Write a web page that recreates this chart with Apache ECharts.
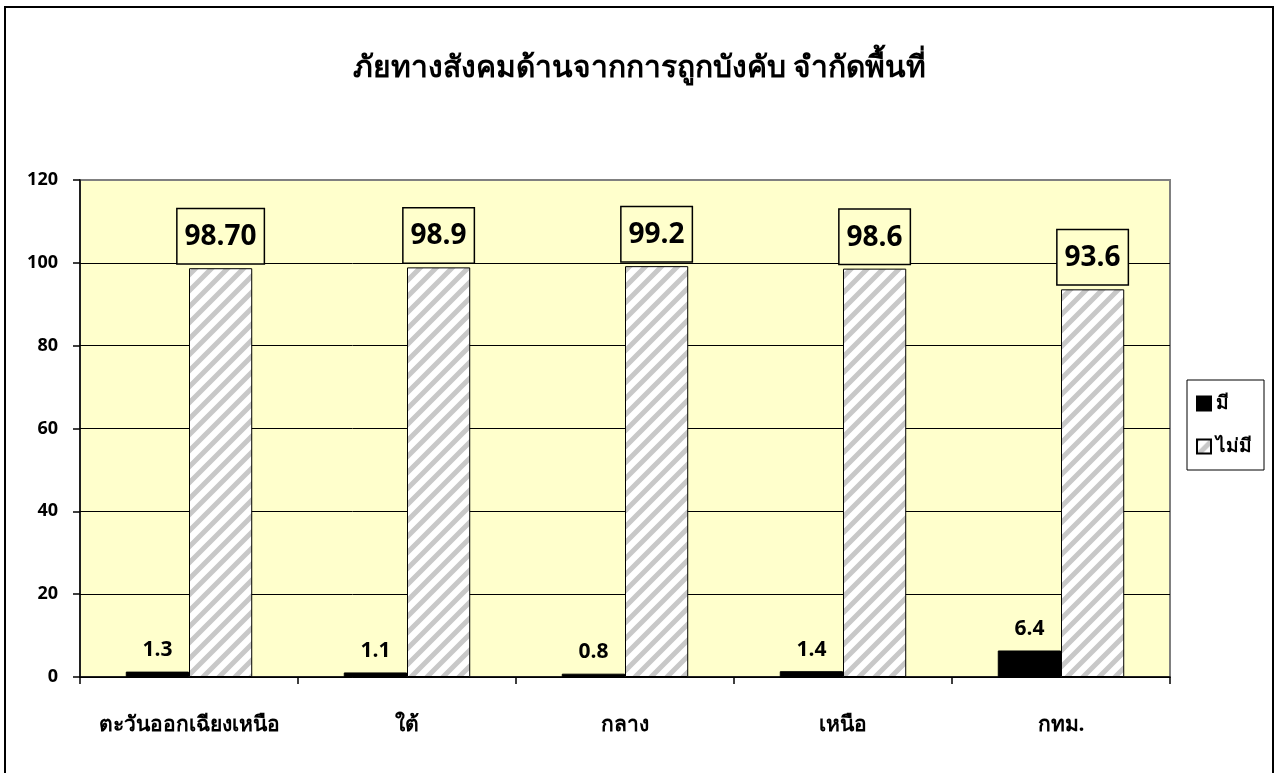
<!DOCTYPE html>
<html lang="th">
<head>
    <meta charset="UTF-8">
    <title>ภัยทางสังคมด้านจากการถูกบังคับ จำกัดพื้นที่</title>
    <style>
        html, body { margin: 0; padding: 0; background: #fff; }
        #main { width: 1279px; height: 773px; }
    </style>
</head>
<body>
    <div id="main"></div>
    <script src="https://cdn.jsdelivr.net/npm/echarts@6/dist/echarts.min.js"></script>
    <script>
        // ข้อมูล
        var categories = ['ตะวันออกเฉียงเหนือ', 'ใต้', 'กลาง', 'เหนือ', 'กทม.'];
        var yesValues = [1.3, 1.1, 0.8, 1.4, 6.4];
        var noValues = [98.7, 98.9, 99.2, 98.6, 93.6];
        var noLabels = ['98.70', '98.9', '99.2', '98.6', '93.6'];
        var seriesNames = ['มี', 'ไม่มี'];

        var font = '"Open Sans", Lato, sans-serif';

        // ลายเส้นเฉียง (x + y = 0, s, 2s)
        function hatch() {
            var s = 16;
            var c = document.createElement('canvas');
            c.width = s; c.height = s;
            var ctx = c.getContext('2d');
            ctx.fillStyle = '#ffffff';
            ctx.fillRect(0, 0, s, s);
            ctx.strokeStyle = '#c8c8c8';
            ctx.lineWidth = 5;
            ctx.beginPath();
            ctx.moveTo(-4, 4); ctx.lineTo(4, -4);
            ctx.moveTo(-4, s + 4); ctx.lineTo(s + 4, -4);
            ctx.moveTo(s - 4, s + 4); ctx.lineTo(s + 4, s - 4);
            ctx.stroke();
            return c;
        }
        var hatchPattern = { image: hatch(), repeat: 'repeat' };

        var chart = echarts.init(document.getElementById('main'));
        var option = {
            backgroundColor: '#ffffff',
            animation: false,
            title: {
                text: 'ภัยทางสังคมด้านจากการถูกบังคับ จำกัดพื้นที่',
                left: 'center',
                top: 48,
                textStyle: { fontFamily: font, fontSize: 30, fontWeight: 'bold', color: '#000' }
            },
            graphic: [{
                type: 'rect',
                shape: { x: 5, y: 7, width: 1268, height: 780 },
                style: { fill: 'none', stroke: '#000', lineWidth: 2 },
                silent: true
            }],
            legend: {
                orient: 'vertical',
                left: 1187,
                top: 380,
                width: 80,
                itemWidth: 14,
                itemHeight: 14,
                itemGap: 24,
                icon: 'rect',
                padding: [14, 12, 14, 9],
                borderColor: '#000',
                borderWidth: 1,
                backgroundColor: '#fff',
                textStyle: { fontFamily: font, fontSize: 19, fontWeight: 'bold', color: '#000' },
                data: seriesNames
            },
            grid: {
                show: true,
                left: 80,
                top: 180,
                width: 1090,
                height: 497,
                backgroundColor: '#FFFFCC',
                borderColor: '#808080',
                borderWidth: 2
            },
            xAxis: {
                type: 'category',
                data: categories,
                axisLine: { lineStyle: { color: '#000', width: 1.5 } },
                axisTick: { show: true, interval: 0, length: 7, lineStyle: { color: '#000', width: 1.5 } },
                axisLabel: {
                    interval: 0,
                    margin: 38,
                    fontFamily: font, fontSize: 21, fontWeight: 'bold', color: '#000'
                }
            },
            yAxis: {
                type: 'value',
                min: 0,
                max: 120,
                interval: 20,
                axisLine: { show: true, lineStyle: { color: '#000', width: 1.5 } },
                axisTick: { show: true, length: 7, lineStyle: { color: '#000', width: 1.5 } },
                splitLine: {
                    lineStyle: {
                        color: ['#000', '#000', '#000', '#000', '#000', '#000', '#808080'],
                        width: 1
                    }
                },
                axisLabel: {
                    margin: 22,
                    fontFamily: font, fontSize: 18, fontWeight: 'bold', color: '#000'
                }
            },
            series: [
                {
                    name: seriesNames[0],
                    type: 'bar',
                    data: yesValues,
                    barGap: '0%',
                    barCategoryGap: '42%',
                    itemStyle: { color: '#000', borderColor: '#000', borderWidth: 1 },
                    label: {
                        show: true,
                        position: 'top',
                        distance: 11,
                        fontFamily: font, fontSize: 21, fontWeight: 'bold', color: '#000'
                    }
                },
                {
                    name: seriesNames[1],
                    type: 'bar',
                    data: noValues,
                    barGap: '0%',
                    barCategoryGap: '42%',
                    itemStyle: { color: hatchPattern, borderColor: '#000', borderWidth: 1 },
                    label: {
                        show: true,
                        position: 'top',
                        distance: 5,
                        formatter: function (p) { return noLabels[p.dataIndex]; },
                        backgroundColor: '#FFFFCC',
                        borderColor: '#000',
                        borderWidth: 1.5,
                        padding: [14, 7, 12, 7],
                        fontFamily: font, fontSize: 28, fontWeight: 'bold', color: '#000'
                    }
                }
            ]
        };
        chart.setOption(option);
    </script>
</body>
</html>
